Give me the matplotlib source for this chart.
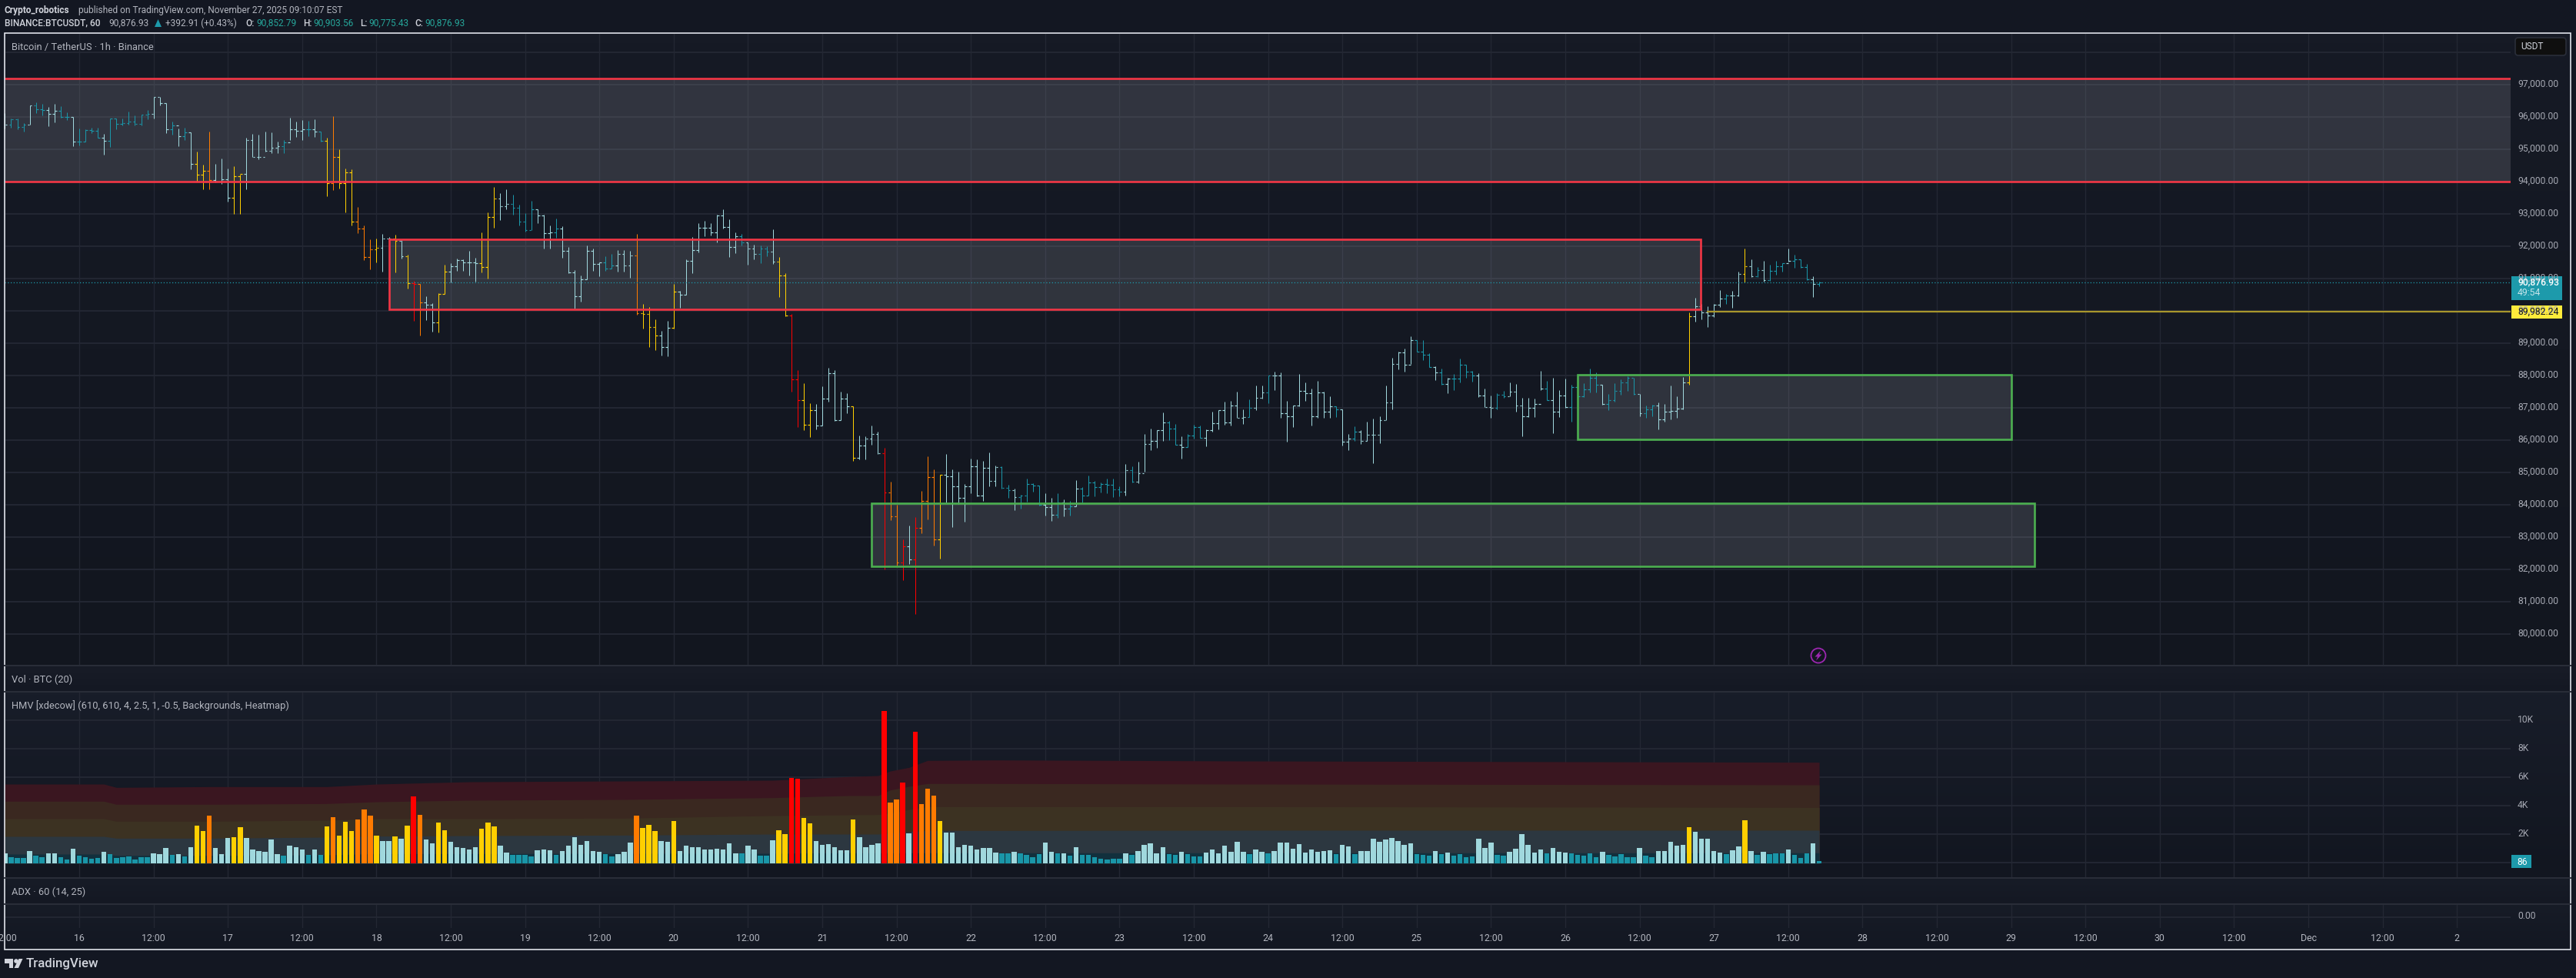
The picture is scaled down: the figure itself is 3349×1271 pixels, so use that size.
import matplotlib
matplotlib.use("Agg")
import matplotlib.pyplot as plt
import numpy as np
from matplotlib.colors import LinearSegmentedColormap
from matplotlib.patches import Circle, Polygon, Rectangle, FancyBboxPatch

plt.rcParams['font.family'] = ['Roboto', 'DejaVu Sans']

# hourly bars, first one is Nov 15 12:00
highs = [
    96133, 95959, 95959, 95816, 96356, 96451, 96411, 96308, 96411, 96332,
    96157, 95998, 95657, 95633, 95681, 95681, 95482, 95959, 95959, 95959,
    96173, 96054, 96078, 96213, 96626, 96626, 96427, 95871, 95657, 95681,
    95538, 94935, 94529, 95554, 94545, 94720, 94402, 94482, 94228, 95355,
    95474, 95450, 95546, 95538, 95244, 95300, 95990, 95855, 95911, 95895,
    95935, 95554, 95363, 96030, 95007, 94411, 94387, 93220, 92640, 92220,
    92243, 92386, 92283, 92363, 92204, 91743, 90933, 90838, 90457, 90235,
    90552, 91441, 91473, 91624, 91592, 91870, 91648, 92434, 93053, 93839,
    93657, 93768, 93601, 93291, 93029, 93411, 93141, 92974, 92656, 92863,
    92625, 91981, 91267, 91108, 92029, 91926, 91505, 91696, 91767, 91894,
    91886, 91862, 92386, 90219, 90123, 89742, 89385, 89695, 90838, 90616,
    91600, 92291, 92712, 92791, 92712, 92982, 93149, 92839, 92442, 92386,
    92124, 92053, 92021, 92005, 92529, 91672, 91172, 89904, 88173, 87776,
    87148, 87124, 87680, 88236, 88173, 87506, 87458, 87061, 86148, 86116,
    86450, 86267, 85767, 84719, 84004, 82932, 83353, 83631, 84433, 85505,
    85100, 84925, 85576, 85100, 85020, 84647, 85433, 85410, 85362, 85624,
    85219, 85195, 84623, 84504, 84306, 84806, 84663, 84600, 84361, 84218,
    84361, 84171, 84131, 84766, 84544, 84901, 84742, 84703, 84806, 84822,
    84584, 85274, 85195, 85338, 86195, 86354, 86315, 86862, 86600, 86505,
    86132, 86195, 86473, 86450, 86346, 86886, 86926, 87196, 87228, 87506,
    86950, 87267, 87696, 87696, 87998, 88117, 88101, 87220, 87085, 88053,
    87791, 87601, 87839, 87506, 87363, 87061, 86950, 86195, 86434, 86315,
    86577, 86664, 86735, 87696, 88554, 88752, 88847, 89213, 89110, 89094,
    88689, 88292, 88220, 87934, 88053, 88530, 88339, 88141, 88077, 87601,
    87379, 87466, 87522, 87784, 87752, 87307, 87323, 87283, 88156, 87839,
    87942, 87561, 87918, 87720, 87640, 87759, 88220, 88093, 87720, 87442,
    87759, 87878, 87974, 87942, 87426, 87069, 87108, 87164, 87124, 87704,
    87362, 87958, 89959, 90419, 90221, 90141, 90221, 90642, 90538, 90618,
    91229, 91936, 91594, 91372, 91547, 91435, 91547, 91491, 91936, 91745,
    91594, 91451, 91078, 90903.56,
]
lows = [
    95657, 95681, 95633, 95562, 95760, 96117, 96054, 95720, 95840, 95975,
    95911, 95101, 95125, 95236, 95498, 95355, 94839, 95077, 95633, 95736,
    95776, 95736, 95736, 95935, 95951, 96372, 95498, 95458, 95101, 95300,
    94387, 94005, 93767, 93767, 93990, 93934, 93378, 93013, 93013, 93767,
    94760, 94704, 94942, 94887, 94887, 94887, 95300, 95379, 95300, 95419,
    95379, 95244, 93561, 93752, 93792, 93053, 92656, 92418, 91584, 91291,
    91505, 91227, 92164, 91195, 91624, 90695, 89703, 89242, 89718, 89369,
    89345, 90520, 90878, 91251, 91243, 91108, 90917, 91195, 91005, 92585,
    92815, 93156, 92990, 92656, 92466, 92497, 92720, 91942, 91942, 92275,
    91656, 91179, 90084, 90298, 90973, 91251, 91076, 91243, 91314, 91219,
    91227, 91029, 89893, 89464, 88893, 88790, 88631, 88607, 89464, 90100,
    90497, 91179, 91823, 92323, 92339, 92132, 92561, 91680, 91799, 92029,
    91441, 91608, 91489, 91703, 91465, 90433, 89845, 87498, 86410, 86323,
    86108, 86346, 86450, 87204, 86608, 86632, 86847, 85362, 85417, 85417,
    85854, 85576, 82003, 83528, 82138, 81670, 82162, 80630, 83115, 83552,
    82742, 82337, 84068, 83313, 84028, 83480, 84361, 84266, 84131, 84584,
    84584, 84504, 84226, 83845, 83893, 84107, 84409, 83972, 83671, 83512,
    83607, 83655, 83671, 83948, 84068, 84282, 84266, 84385, 84369, 84242,
    84266, 84290, 84703, 84679, 85020, 85695, 85775, 85973, 86013, 85854,
    85441, 85783, 86053, 86084, 85814, 86267, 86331, 86473, 86450, 86688,
    86505, 86728, 86942, 87283, 87148, 87561, 86704, 85965, 86418, 87045,
    87220, 86465, 86688, 86688, 86688, 86712, 85838, 85695, 85973, 85894,
    85989, 85298, 85918, 86632, 86966, 88196, 88133, 88355, 88736, 88474,
    88260, 87863, 87720, 87466, 87561, 87799, 87942, 87815, 87347, 87021,
    86688, 86966, 87323, 87363, 86886, 86132, 86712, 86728, 87561, 87243,
    86211, 86727, 87005, 86584, 87243, 87338, 87481, 87481, 87108, 86926,
    87203, 87402, 87521, 87402, 86743, 86687, 86751, 86330, 86584, 86648,
    86687, 86965, 87720, 89673, 89744, 89506, 89824, 90125, 90221, 90102,
    90459, 90880, 91054, 91054, 90912, 90935, 91134, 91213, 91531, 91332,
    91332, 90959, 90435, 90775.43,
]
closes = [
    95776, 95935, 95697, 95776, 96356, 96237, 96229, 96110, 96205, 95998,
    95998, 95252, 95252, 95594, 95578, 95355, 95260, 95959, 95800, 95808,
    95856, 95784, 96078, 96102, 96618, 96427, 95617, 95736, 95403, 95522,
    94545, 94212, 94331, 94045, 94005, 94069, 93497, 94164, 94244, 95284,
    94760, 94768, 94958, 95061, 95101, 95220, 95633, 95578, 95633, 95633,
    95554, 95276, 93951, 94760, 93951, 94284, 92760, 92545, 91664, 91902,
    91950, 92235, 92235, 92164, 91703, 90870, 90838, 90258, 90203, 89639,
    90520, 91211, 91378, 91569, 91497, 91497, 91489, 91354, 92902, 93474,
    93236, 93307, 93188, 92760, 92497, 93141, 92950, 92402, 92426, 92545,
    91854, 91187, 90449, 90973, 91862, 91449, 91497, 91306, 91402, 91759,
    91402, 91711, 89941, 89901, 89496, 89234, 88877, 89488, 90592, 90497,
    91545, 91878, 92569, 92569, 92426, 92966, 92593, 91973, 92315, 92124,
    91926, 91775, 91926, 91830, 91529, 91092, 89861, 87879, 87236, 86473,
    86926, 86450, 87283, 88069, 86632, 87283, 87045, 85449, 85830, 86045,
    86188, 85592, 84385, 83639, 82210, 82710, 82305, 83281, 84115, 84854,
    82924, 84925, 84877, 84568, 84210, 84568, 85187, 84282, 85140, 84735,
    85163, 84520, 84449, 84250, 84282, 84639, 84600, 84004, 83925, 83686,
    84083, 83877, 83948, 84496, 84282, 84687, 84544, 84655, 84615, 84480,
    84401, 85068, 84727, 84973, 85878, 85989, 86307, 86545, 86354, 85870,
    85783, 86148, 86402, 86084, 86323, 86521, 86926, 86545, 87085, 86688,
    86728, 86997, 87323, 87474, 87998, 87998, 86831, 86735, 87069, 87522,
    87450, 86735, 87482, 86894, 87045, 86950, 85957, 86053, 86259, 85989,
    86164, 86164, 86632, 87164, 88355, 88712, 88339, 89094, 88752, 88641,
    88276, 88093, 87736, 87903, 87903, 88331, 88117, 87998, 87379, 87021,
    86997, 87402, 87363, 87506, 87077, 86735, 86997, 87125, 87608, 87243,
    86878, 87378, 87021, 87640, 87362, 87569, 87934, 87720, 87116, 87243,
    87521, 87783, 87926, 87434, 86830, 86949, 87084, 86640, 86894, 86902,
    86973, 87799, 89832, 90141, 89951, 89855, 90189, 90380, 90475, 90475,
    91142, 91380, 91086, 91269, 90967, 91237, 91396, 91491, 91547, 91602,
    91356, 90975, 90832, 90876.93,
]
volumes = [
    702, 432, 378, 378, 864, 540, 432, 702, 702, 432,
    270, 1026, 540, 432, 324, 378, 810, 648, 378, 432,
    486, 270, 432, 432, 702, 648, 1080, 594, 648, 486,
    1134, 2646, 2268, 3348, 1080, 648, 1782, 1836, 2538, 1782,
    972, 864, 810, 1674, 648, 540, 1242, 1134, 972, 594,
    972, 594, 2592, 3240, 1944, 2916, 2268, 3078, 3780, 3348,
    1944, 1566, 1566, 1890, 1728, 2646, 4698, 3402, 1674, 1404,
    2862, 2322, 1512, 1134, 1080, 972, 1134, 2430, 2862, 2592,
    1242, 756, 594, 594, 594, 486, 918, 972, 918, 594,
    864, 1242, 1836, 1296, 1566, 864, 810, 648, 486, 648,
    810, 1458, 3348, 2484, 2700, 2268, 1566, 1512, 2970, 864,
    1242, 1134, 1134, 972, 972, 1026, 972, 1404, 702, 702,
    1242, 972, 540, 540, 1620, 2322, 2052, 5994, 5940, 3186,
    2808, 1566, 1296, 1350, 1134, 918, 918, 3078, 1836, 1134,
    1296, 1404, 10692, 4266, 4482, 5670, 2106, 9234, 4158, 5238,
    4752, 2970, 2160, 2160, 1134, 1296, 1242, 972, 1080, 1080,
    756, 702, 702, 810, 702, 594, 432, 648, 1458, 810,
    702, 702, 540, 1134, 594, 594, 432, 324, 270, 324,
    324, 702, 594, 864, 1296, 1404, 702, 1134, 648, 594,
    810, 648, 486, 486, 756, 972, 702, 1242, 810, 1512,
    810, 648, 972, 810, 702, 864, 1458, 1458, 1026, 1350,
    756, 972, 810, 864, 918, 648, 1296, 1188, 648, 864,
    864, 1728, 1512, 1674, 1782, 1566, 1296, 1404, 648, 594,
    540, 864, 648, 756, 540, 648, 432, 486, 1728, 1080,
    1458, 594, 540, 810, 1026, 2052, 1296, 756, 972, 702,
    1080, 810, 756, 702, 594, 540, 702, 432, 810, 594,
    486, 648, 432, 432, 1080, 540, 432, 864, 864, 1512,
    1242, 1296, 2538, 2214, 1728, 1728, 864, 756, 648, 918,
    1188, 3024, 864, 594, 810, 648, 702, 702, 972, 594,
    378, 702, 1404, 162,
]
# heat level of every bar: t low, l normal, y high, o very high, r extreme
levels = (
    "ltttlttllt" "tlttttlttt" "ttttllltlt" "lyyolllyyl" "llllltlllt"
    "ltyoyyyooo" "yllylyroll" "yylllllyyy" "llttttlllt" "lllllllttl"
    "lloyyyllyl" "lllllllllt" "llttlyyrry" "yllllllyll" "llroorlroo"
    "oyllllllll" "lttlttttll" "tltltttttt" "tltllllltt" "ltttllllll"
    "ltlltlllll" "llllltlltl" "lllllllltt" "tltlttttll" "lttllllllt"
    "llltttttlt" "ttttlttlll" "llylllllt" "l" "lyltltttlt" "ttlt"
)
level_colors = {'t': '#1a96a8', 'l': '#a0d8dd', 'y': '#ffcf00', 'o': '#ff7b00', 'r': '#ff0000'}

# heatmap band tops, read at a few hours along the chart
band_hours = [0, 16, 18, 33, 52, 60, 75, 100, 124, 136, 141, 143, 146, 149, 160, 200, 293]
band_red = [5562, 5562, 5328, 5382, 5382, 5562, 5724, 5778, 5832, 6084, 6156, 6480, 6732, 7218, 7254, 7182, 7092]
band_orange = [4356, 4356, 4140, 4140, 4194, 4320, 4428, 4482, 4608, 4752, 4752, 5148, 5400, 5598, 5598, 5562, 5508]
band_yellow = [3132, 3132, 2952, 2952, 3024, 3132, 3132, 3168, 3348, 3402, 3420, 3528, 3780, 3978, 3978, 3978, 3924]
band_light = [1890, 1890, 1764, 1764, 1836, 1908, 1944, 1980, 2052, 2052, 2052, 2124, 2232, 2304, 2304, 2322, 2322]
band_teal = [648, 648, 558, 558, 594, 684, 684, 702, 702, 738, 738, 738, 738, 738, 738, 738, 738]

# drawn zones: hour from, hour to, price low, price high
red_zone = [-10, 420, 94000, 97200]
red_box = [62.1, 273.9, 90062, 92221]
green_box_high = [254, 324, 86030, 88031]
green_box_low = [140, 327.8, 82100, 84054]
last_price = 90876.93
level_price = 89982.24
level_from = 274.9

price_ticks = list(range(80000, 99000, 1000))
time_labels = ["12:00", "16", "12:00", "17", "12:00", "18", "12:00", "19", "12:00", "20", "12:00", "21",
               "12:00", "22", "12:00", "23", "12:00", "24", "12:00", "25", "12:00", "26", "12:00", "27",
               "12:00", "28", "12:00", "29", "12:00", "30", "12:00", "Dec", "12:00", "2"]
vol_ticks = [0, 2000, 4000, 6000, 8000, 10000]
vol_labels = ["", "2K", "4K", "6K", "8K", "10K"]

W, H = 3349, 1271
BG = '#131722'
GRID = '#232733'
TXT = '#b2b5be'
TEAL = '#1d9aab'
ZONE_FILL = '#9598a1'
RED = '#f23645'
GREEN = '#4caf50'
VOL_GRID_SHIFT = 70  # the pane's zero line sits just above the bar feet


def px_axes(left, top, right, bottom, **kw):
    return fig.add_axes([left / W, 1 - bottom / H, (right - left) / W, (bottom - top) / H], **kw)


fig = plt.figure(figsize=(W / 100, H / 100), dpi=100, facecolor=BG)

# background with the pane gradients
bg = px_axes(0, 0, W, H, zorder=0)
bg.set_axis_off()
panes = [(43, 865, '#161a25', '#12161f'), (865, 899, '#181c27', '#141823'),
         (899, 1141, '#181d29', '#121620'), (1141, 1175, '#171c27', '#141823'),
         (1175, 1234, '#171c27', '#131722')]
for top, bottom, c1, c2 in panes:
    cm = LinearSegmentedColormap.from_list('p', [c1, c2])
    bg.imshow(np.linspace(0, 1, 64).reshape(-1, 1), cmap=cm, aspect='auto', extent=(6, 3342, bottom, top))
bg.set_xlim(0, W)
bg.set_ylim(H, 0)

x_left = (6 - 6.4) / 8.05
x_right = (3264 - 6.4) / 8.05
hours = np.arange(len(closes))
opens = [closes[0]] + closes[:-1]
bar_colors = [level_colors[c] for c in levels]

# price pane
ax = px_axes(6, 43, 3264, 865, zorder=1)
ax.set_xlim(x_left, x_right)
ax.set_ylim(92000 - 544.7 / 0.042, 92000 + 277.3 / 0.042)
ax.axis('off')
ax.hlines(price_ticks, x_left, x_right, color=GRID, lw=1.4, zorder=0)
grid_hours = [12 * k for k in range(len(time_labels))]
ax.vlines(grid_hours, *ax.get_ylim(), color=GRID, lw=1.0, zorder=0)

for zone in [red_box, green_box_high, green_box_low]:
    ax.add_patch(Rectangle((zone[0], zone[2]), zone[1] - zone[0], zone[3] - zone[2],
                           fc=ZONE_FILL, alpha=0.22, ec='none', zorder=1))
    ax.add_patch(Rectangle((zone[0], zone[2]), zone[1] - zone[0], zone[3] - zone[2], fc='none',
                           ec=RED if zone is red_box else GREEN, lw=1.9, zorder=4))
ax.add_patch(Rectangle((red_zone[0], red_zone[2]), red_zone[1] - red_zone[0], red_zone[3] - red_zone[2],
                       fc=ZONE_FILL, alpha=0.22, ec='none', zorder=1))
ax.hlines([red_zone[2], red_zone[3]], x_left, x_right, color=RED, lw=1.9, zorder=4)

# thin stems with short open and close dashes that leave a gap between bars
ax.vlines(hours, lows, highs, colors=bar_colors, lw=0.72, zorder=3)
ax.hlines(opens, hours - 0.36, hours - 0.02, colors=bar_colors, lw=0.85, zorder=3)
ax.hlines(closes, hours + 0.02, hours + 0.36, colors=bar_colors, lw=0.85, zorder=3)

ax.hlines(last_price, x_left, x_right, color=TEAL, lw=0.9, linestyles=(0, (1, 2)), zorder=3)
ax.hlines(level_price, level_from, x_right, color='#a8962c', lw=1.6, zorder=3)

# volume heatmap pane
hv = px_axes(6, 899, 3264, 1141, zorder=1)
hv.set_xlim(x_left, x_right)
hv.set_ylim(-19 * 54, (1122 - 899) * 54)
hv.axis('off')
bh = [x_left] + band_hours
hv.hlines([t + VOL_GRID_SHIFT for t in vol_ticks], x_left, x_right, color=GRID, lw=1.4, zorder=0)
hv.vlines(grid_hours, *hv.get_ylim(), color=GRID, lw=1.0, zorder=0)
hv.fill_between(bh, 0, [band_red[0]] + band_red, color='#3a1620', lw=0, zorder=1)
hv.fill_between(bh, 0, [band_orange[0]] + band_orange, color='#3a2820', lw=0, zorder=1)
hv.fill_between(bh, 0, [band_yellow[0]] + band_yellow, color='#3c3222', lw=0, zorder=1)
hv.fill_between(bh, 0, [band_light[0]] + band_light, color='#2c3740', lw=0, zorder=1)
hv.fill_between(bh, 0, [band_teal[0]] + band_teal, color='#12303d', lw=0, zorder=1)
hv.bar(hours, volumes, width=0.8, color=bar_colors, lw=0, zorder=2)

# last empty pane with the 0.00 line
ad = px_axes(6, 1175, 3264, 1206, zorder=1)
ad.set_xlim(x_left, x_right)
ad.set_ylim(-14, 17)
ad.axis('off')
ad.hlines(0, x_left, x_right, color=GRID, lw=1.4)
ad.vlines(grid_hours, -14, 17, color=GRID, lw=1.0)

# texts, chips and frame in picture pixels
ov = px_axes(0, 0, W, H, zorder=5)
ov.set_axis_off()
ov.set_xlim(0, W)
ov.set_ylim(H, 0)
ov.patch.set_alpha(0)


def label(x, y, s, color=TXT, size=8.5, ha='left', **kw):
    return ov.text(x, y, s, color=color, fontsize=size, ha=ha, va='center', **kw)


for y in (865, 899, 1141, 1175):
    ov.plot([6, 3342], [y, y], color='#2a2e39', lw=1.4)
ov.add_patch(Rectangle((6, 43), 3336, 1191, fc='none', ec='#f0f3fa', lw=1.1))

# header lines
label(6, 13, "Crypto_robotics", color='#d1d4dc', size=8.6, fontweight='bold')
label(102, 13, "published on TradingView.com, November 27, 2025 09:10:07 EST", color='#b2b5be', size=8.6)
label(6, 30, "BINANCE:BTCUSDT, 60", color='#d1d4dc', size=8.6, fontweight='medium')
label(141, 30, "90,876.93", color='#b2b5be', size=8.6)
ov.add_patch(Polygon([(201, 35), (210, 35), (205.5, 25)], fc=TEAL, ec='none'))
label(215, 30, "+392.91 (+0.43%)", color='#b2b5be', size=8.6)
for x_name, name, x_val, val in [(319, "O:", 333, "90,852.79"), (394, "H:", 407, "90,903.56"),
                                 (468, "L:", 479, "90,775.43"), (539, "C:", 552, "90,876.93")]:
    label(x_name, 30, name, color='#d1d4dc', size=8.6, fontweight='medium')
    label(x_val, 30, val, color='#26a69a', size=8.6)

label(15, 61, "Bitcoin / TetherUS · 1h · Binance", size=9.3)
label(15, 883, "Vol · BTC (20)", size=9.3)
label(15, 917, "HMV [xdecow] (610, 610, 4, 2.5, 1, -0.5, Backgrounds, Heatmap)", size=9.3)
label(15, 1159, "ADX · 60 (14, 25)", size=9.3)

# price scale
for p in price_ticks[:-1]:
    y = 320.3 + (92000 - p) * 0.042
    label(3273, y - 1.5, f"{p:,.2f}", color='#a5a8b2', size=8.7)
ov.add_patch(FancyBboxPatch((3270, 49), 66, 23, boxstyle="round,pad=0,rounding_size=4", fc='#0f0f0f', ec='#2a2e39', lw=1.2))
label(3277, 61, "USDT", color='#d1d4dc', size=8.6)

ov.add_patch(Rectangle((3265, 359), 66, 31, fc=TEAL, ec='none'))
label(3273, 367, "90,876.93", color='#ffffff', size=8.7, fontweight='medium')
label(3273, 381, "49:54", color='#c5e5ea', size=8.7)
ov.add_patch(Rectangle((3265, 397), 66, 17, fc='#ffeb3b', ec='none'))
label(3273, 405, "89,982.24", color='#131722', size=8.7)

for t, s in zip(vol_ticks, vol_labels):
    if s:
        label(3273, 1120.7 - t * 0.0185, s, color='#a5a8b2', size=8.7)
ov.add_patch(Rectangle((3265, 1111), 26, 17, fc=TEAL, ec='none'))
label(3272, 1120, "86", color='#ffffff', size=8.7)
label(3273, 1191, "0.00", color='#a5a8b2', size=8.7)

# time scale
for k, s in enumerate(time_labels):
    x = 6.4 + 8.05 * grid_hours[k]
    t = label(x, 1219.5, s, color=TXT, size=8.9, ha='center')
    t.set_clip_path(Rectangle((7, 1206), 3334, 27, transform=ov.transData))

# alert icon
ov.add_patch(Circle((2364, 852), 9.5, fc='none', ec='#9c27b0', lw=1.3))
ov.add_patch(Polygon([(2367, 845.5), (2359.5, 853.5), (2363, 853.5), (2361, 858.5), (2368.5, 850.5), (2365, 850.5)],
                     fc='#9c27b0', ec='none'))

# logo
ov.add_patch(Polygon([(6, 1246), (17, 1246), (17, 1258), (12, 1258), (12, 1252), (6, 1252)], fc='#d1d4dc', ec='none'))
ov.add_patch(Circle((21, 1249), 2.8, fc='#d1d4dc', ec='none'))
ov.add_patch(Polygon([(24.5, 1246), (29.5, 1246), (24, 1258), (18.5, 1258)], fc='#d1d4dc', ec='none'))
label(34, 1252.5, "TradingView", color='#d1d4dc', size=12.2, fontweight='medium')

fig.savefig('out.png', dpi=100, facecolor=BG)
